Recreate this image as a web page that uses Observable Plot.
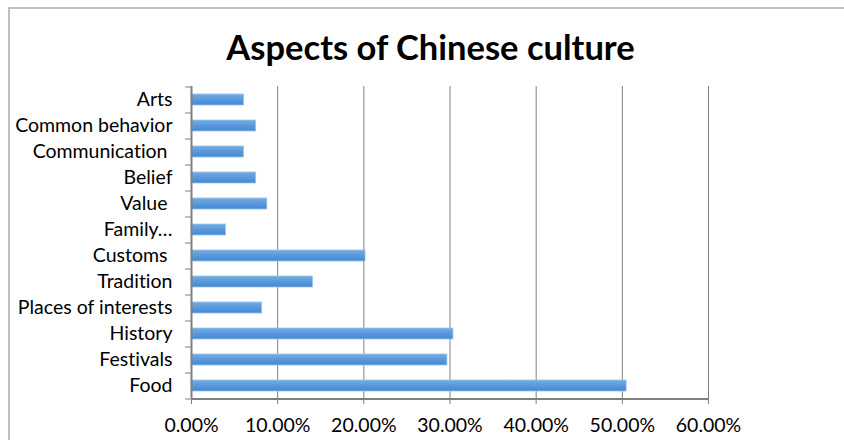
<!DOCTYPE html>
<html>
<head>
<meta charset="utf-8">
<script src="https://cdn.jsdelivr.net/npm/d3@7"></script>
<script src="https://cdn.jsdelivr.net/npm/@observablehq/plot@0.6"></script>
<style>
  body { margin: 0; background: #fff; }
  #wrap { position: relative; width: 844px; height: 440px; overflow: hidden; font-family: Lato, "Open Sans", sans-serif; font-variant-ligatures: none; }
  #frame { position: absolute; left: 8px; top: 7px; right: -10px; bottom: -10px; border-left: 2px solid #c0c0c0; border-top: 2px solid #c0c0c0; }
  #title { position: absolute; left: 0; width: 861px; top: 30px; text-align: center; font-weight: bold; font-size: 34.5px; line-height: 34px; color: #000; white-space: nowrap; }
  #chart { position: absolute; left: 0; top: 70px; }
  svg text { white-space: pre; font-variant-ligatures: none; }
</style>
</head>
<body>
<div id="wrap">
  <div id="frame"></div>
  <div id="title">Aspects of Chinese culture</div>
  <div id="chart"></div>
</div>
<script>
const categories = ["Arts", "Common behavior", "Communication ", "Belief", "Value ", "Family…", "Customs ", "Tradition", "Places of interests", "History", "Festivals", "Food"];
const values = [0.061, 0.075, 0.061, 0.075, 0.088, 0.040, 0.202, 0.141, 0.082, 0.304, 0.297, 0.505];
const xTicks = [0, 0.1, 0.2, 0.3, 0.4, 0.5, 0.6];

const rows = categories.map((c, i) => ({category: c, value: values[i]}));
const fmt = d3.format(".2%");
const axisColor = "#808080";

const chart = Plot.plot({
  width: 844,
  height: 370,
  marginLeft: 191,
  marginRight: 136,
  marginTop: 16,
  marginBottom: 42,
  style: {fontFamily: "Lato, 'Open Sans', sans-serif", fontSize: "19.5px", color: "#000", background: "transparent", overflow: "visible"},
  x: {domain: [0, 0.6]},
  y: {domain: categories, paddingInner: 0.58, paddingOuter: 0.29},
  marks: [
    Plot.gridX(xTicks.filter(d => d > 0), {stroke: axisColor, strokeOpacity: 1, strokeWidth: 1}),
    Plot.barX(rows, {x: "value", y: "category", fill: "url(#barGrad)", stroke: "#9fc3ec", strokeWidth: 0.8}),
    Plot.ruleX([0], {stroke: axisColor, strokeWidth: 2}),
    Plot.ruleY([categories[categories.length - 1]], {stroke: axisColor, strokeWidth: 2, dy: 13}),
    Plot.axisX(xTicks, {tickSize: 6, tickPadding: 14, tickFormat: fmt, stroke: axisColor, label: null, fontSize: 19.5}),
    Plot.axisY(categories, {tickSize: 6, fill: "none", stroke: axisColor, dy: -13, label: null}),
    Plot.axisY([categories[categories.length - 1]], {tickSize: 6, fill: "none", stroke: axisColor, dy: 13, label: null}),
    Plot.axisY(categories, {tickSize: 0, tickPadding: 19, label: null, fontSize: 19.5})
  ]
});

const defs = d3.select(chart).insert("defs", ":first-child");
const grad = defs.append("linearGradient").attr("id", "barGrad").attr("x1", 0).attr("y1", 0).attr("x2", 0).attr("y2", 1);
grad.append("stop").attr("offset", "0%").attr("stop-color", "#74ace3");
grad.append("stop").attr("offset", "100%").attr("stop-color", "#4088d4");

document.getElementById("chart").appendChild(chart);
</script>
</body>
</html>
